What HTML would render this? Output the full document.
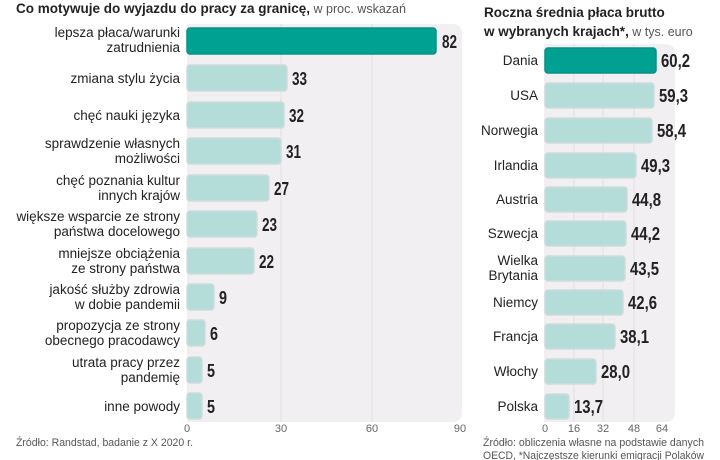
<!DOCTYPE html>
<html><head><meta charset="utf-8"><style>
body{margin:0;background:#fff;}
svg{display:block;font-family:"Liberation Sans",sans-serif;}
</style></head><body>
<svg width="720" height="460" xmlns="http://www.w3.org/2000/svg">
<text x="16" y="13" font-size="13.5" font-weight="bold" fill="#222">Co motywuje do wyjazdu do pracy za granicę,<tspan font-weight="normal" fill="#555" font-size="12.5"> w proc. wskazań</tspan></text>
<text x="484" y="17" font-size="13.5" font-weight="bold" fill="#222">Roczna średnia płaca brutto</text>
<text x="484" y="36" font-size="13.5" font-weight="bold" fill="#222">w wybranych krajach*,<tspan font-weight="normal" fill="#555" font-size="12.5"> w tys. euro</tspan></text>
<path d="M187 24 H452 Q462 24 462 34 V412 Q462 422 452 422 H187 Z" fill="#f2eff2"/>
<line x1="281" y1="24" x2="281" y2="422" stroke="#e2dfe2"/>
<line x1="372" y1="24" x2="372" y2="422" stroke="#e2dfe2"/>
<path d="M544 44 H665 Q675 44 675 54 V412 Q675 422 665 422 H544 Z" fill="#f2eff2"/>
<line x1="574" y1="44" x2="574" y2="422" stroke="#e2dfe2"/>
<line x1="603" y1="44" x2="603" y2="422" stroke="#e2dfe2"/>
<line x1="634" y1="44" x2="634" y2="422" stroke="#e2dfe2"/>
<g font-size="13.5" fill="#222" text-anchor="end">
<text x="180" y="37">lepsza płaca/warunki</text><text x="180" y="52">zatrudnienia</text>
<text x="180" y="83">zmiana stylu życia</text>
<text x="180" y="120">chęć nauki języka</text>
<text x="180" y="148">sprawdzenie własnych</text><text x="180" y="163">możliwości</text>
<text x="180" y="185">chęć poznania kultur</text><text x="180" y="200">innych krajów</text>
<text x="180" y="221">większe wsparcie ze strony</text><text x="180" y="236">państwa docelowego</text>
<text x="180" y="258">mniejsze obciążenia</text><text x="180" y="273">ze strony państwa</text>
<text x="180" y="294">jakość służby zdrowia</text><text x="180" y="309">w dobie pandemii</text>
<text x="180" y="330">propozycja ze strony</text><text x="180" y="345">obecnego pracodawcy</text>
<text x="180" y="367">utrata pracy przez</text><text x="180" y="382">pandemię</text>
<text x="180" y="411">inne powody</text>
</g>
<g stroke="#cfdcdb" stroke-width="1.5" fill="#b4dcd8">
<rect x="187" y="28" width="249" height="26" rx="3" fill="#00a092" stroke="#0a8f84"/>
<rect x="187" y="65" width="100" height="26" rx="3"/>
<rect x="187" y="102" width="97" height="26" rx="3"/>
<rect x="187" y="138" width="94" height="26" rx="3"/>
<rect x="187" y="175" width="82" height="26" rx="3"/>
<rect x="187" y="211" width="70" height="26" rx="3"/>
<rect x="187" y="248" width="67" height="26" rx="3"/>
<rect x="187" y="284" width="27" height="26" rx="3"/>
<rect x="187" y="320" width="18" height="26" rx="3"/>
<rect x="187" y="357" width="15" height="26" rx="3"/>
<rect x="187" y="393" width="15" height="26" rx="3"/>
</g>
<g font-size="18" font-weight="bold" fill="#222" lengthAdjust="spacingAndGlyphs">
<text x="442" y="48" textLength="15" lengthAdjust="spacingAndGlyphs">82</text>
<text x="292" y="85" textLength="15" lengthAdjust="spacingAndGlyphs">33</text>
<text x="289" y="122" textLength="15" lengthAdjust="spacingAndGlyphs">32</text>
<text x="286" y="158" textLength="15" lengthAdjust="spacingAndGlyphs">31</text>
<text x="274" y="195" textLength="15" lengthAdjust="spacingAndGlyphs">27</text>
<text x="262" y="231" textLength="15" lengthAdjust="spacingAndGlyphs">23</text>
<text x="259" y="268" textLength="15" lengthAdjust="spacingAndGlyphs">22</text>
<text x="219" y="304" textLength="8" lengthAdjust="spacingAndGlyphs">9</text>
<text x="210" y="340" textLength="8" lengthAdjust="spacingAndGlyphs">6</text>
<text x="207" y="377" textLength="8" lengthAdjust="spacingAndGlyphs">5</text>
<text x="207" y="413" textLength="8" lengthAdjust="spacingAndGlyphs">5</text>
</g>
<g font-size="13.5" fill="#222" text-anchor="end">
<text x="538" y="65">Dania</text>
<text x="538" y="100">USA</text>
<text x="538" y="135">Norwegia</text>
<text x="538" y="170">Irlandia</text>
<text x="538" y="204">Austria</text>
<text x="538" y="238">Szwecja</text>
<text x="538" y="265">Wielka</text><text x="538" y="280">Brytania</text>
<text x="538" y="307">Niemcy</text>
<text x="538" y="341">Francja</text>
<text x="538" y="376">Włochy</text>
<text x="538" y="411">Polska</text>
</g>
<g stroke="#cfdcdb" stroke-width="1.5" fill="#b4dcd8">
<rect x="545" y="48" width="111" height="25" rx="3" fill="#00a092" stroke="#0a8f84"/>
<rect x="545" y="83" width="109" height="25" rx="3"/>
<rect x="545" y="118" width="107" height="25" rx="3"/>
<rect x="545" y="153" width="91" height="25" rx="3"/>
<rect x="545" y="187" width="82" height="25" rx="3"/>
<rect x="545" y="221" width="81" height="25" rx="3"/>
<rect x="545" y="256" width="80" height="25" rx="3"/>
<rect x="545" y="290" width="78" height="25" rx="3"/>
<rect x="545" y="324" width="70" height="25" rx="3"/>
<rect x="545" y="359" width="51" height="25" rx="3"/>
<rect x="545" y="394" width="24" height="25" rx="3"/>
</g>
<g font-size="18" font-weight="bold" fill="#222">
<text x="661" y="67" textLength="29" lengthAdjust="spacingAndGlyphs">60,2</text>
<text x="659" y="102" textLength="29" lengthAdjust="spacingAndGlyphs">59,3</text>
<text x="657" y="137" textLength="29" lengthAdjust="spacingAndGlyphs">58,4</text>
<text x="641" y="172" textLength="29" lengthAdjust="spacingAndGlyphs">49,3</text>
<text x="632" y="206" textLength="29" lengthAdjust="spacingAndGlyphs">44,8</text>
<text x="631" y="240" textLength="29" lengthAdjust="spacingAndGlyphs">44,2</text>
<text x="630" y="275" textLength="29" lengthAdjust="spacingAndGlyphs">43,5</text>
<text x="628" y="309" textLength="29" lengthAdjust="spacingAndGlyphs">42,6</text>
<text x="620" y="343" textLength="29" lengthAdjust="spacingAndGlyphs">38,1</text>
<text x="601" y="378" textLength="29" lengthAdjust="spacingAndGlyphs">28,0</text>
<text x="574" y="413" textLength="29" lengthAdjust="spacingAndGlyphs">13,7</text>
</g>
<g font-size="11" fill="#666" text-anchor="middle">
<text x="187" y="432">0</text><text x="281" y="432">30</text><text x="372" y="432">60</text><text x="460" y="432">90</text>
<text x="545" y="432">0</text><text x="574" y="432">16</text><text x="603" y="432">32</text><text x="634" y="432">48</text><text x="662" y="432">64</text>
</g>
<g font-size="11" fill="#555">
<text x="16" y="446" textLength="177" lengthAdjust="spacingAndGlyphs">Źródło: Randstad, badanie z X 2020 r.</text>
<text x="483" y="446" textLength="221" lengthAdjust="spacingAndGlyphs">Źródło: obliczenia własne na podstawie danych</text>
<text x="483" y="459" textLength="221" lengthAdjust="spacingAndGlyphs">OECD, *Najczęstsze kierunki emigracji Polaków</text>
</g>
</svg>
</body></html>
